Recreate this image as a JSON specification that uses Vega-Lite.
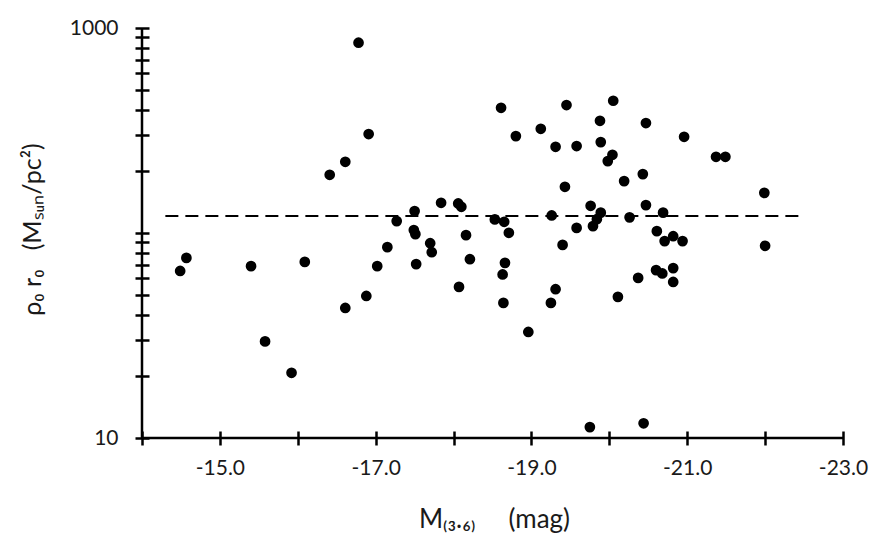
{
  "$schema": "https://vega.github.io/schema/vega-lite/v6.json",
  "width": 701,
  "height": 410,
  "autosize": "none",
  "padding": {"left": 142, "top": 28, "right": 40, "bottom": 101},
  "background": "white",
  "config": {"view": {"stroke": null}, "font": "Lato"},
  "datasets": {
    "points": [
      {"mag": -14.49, "rho": 65.3}, {"mag": -14.57, "rho": 75.6}, {"mag": -15.40, "rho": 68.9},
      {"mag": -15.58, "rho": 29.6}, {"mag": -15.92, "rho": 20.8}, {"mag": -16.09, "rho": 72.3},
      {"mag": -16.41, "rho": 192.3}, {"mag": -16.61, "rho": 222.5}, {"mag": -16.61, "rho": 43.1},
      {"mag": -16.78, "rho": 847.8}, {"mag": -16.88, "rho": 49.3}, {"mag": -16.91, "rho": 303.8},
      {"mag": -17.02, "rho": 68.9}, {"mag": -17.15, "rho": 85.3}, {"mag": -17.27, "rho": 114.3},
      {"mag": -17.50, "rho": 127.9}, {"mag": -17.49, "rho": 103.3}, {"mag": -17.51, "rho": 98.7},
      {"mag": -17.52, "rho": 70.5}, {"mag": -17.70, "rho": 89.2}, {"mag": -17.72, "rho": 80.6},
      {"mag": -17.84, "rho": 140.4}, {"mag": -18.06, "rho": 139.4}, {"mag": -18.10, "rho": 134.2},
      {"mag": -18.07, "rho": 54.6}, {"mag": -18.16, "rho": 97.6}, {"mag": -18.21, "rho": 74.5},
      {"mag": -18.53, "rho": 116.5}, {"mag": -18.61, "rho": 408.2}, {"mag": -18.65, "rho": 113.4},
      {"mag": -18.63, "rho": 62.8}, {"mag": -18.66, "rho": 71.5}, {"mag": -18.64, "rho": 45.6},
      {"mag": -18.71, "rho": 100.2}, {"mag": -18.80, "rho": 297.0}, {"mag": -18.96, "rho": 32.9},
      {"mag": -19.12, "rho": 322.4}, {"mag": -19.25, "rho": 45.6}, {"mag": -19.26, "rho": 121.8},
      {"mag": -19.31, "rho": 263.4}, {"mag": -19.31, "rho": 53.2}, {"mag": -19.40, "rho": 87.5},
      {"mag": -19.45, "rho": 420.9}, {"mag": -19.43, "rho": 168.0}, {"mag": -19.58, "rho": 265.5},
      {"mag": -19.58, "rho": 105.9}, {"mag": -19.76, "rho": 135.7}, {"mag": -19.75, "rho": 11.3},
      {"mag": -19.79, "rho": 108.0}, {"mag": -19.84, "rho": 116.8}, {"mag": -19.89, "rho": 125.7},
      {"mag": -19.88, "rho": 352.7}, {"mag": -19.89, "rho": 277.6}, {"mag": -19.98, "rho": 224.2},
      {"mag": -20.04, "rho": 240.7}, {"mag": -20.05, "rho": 441.7}, {"mag": -20.11, "rho": 48.8},
      {"mag": -20.19, "rho": 179.1}, {"mag": -20.26, "rho": 119.2}, {"mag": -20.37, "rho": 60.4},
      {"mag": -20.43, "rho": 193.8}, {"mag": -20.44, "rho": 11.8}, {"mag": -20.47, "rho": 343.8},
      {"mag": -20.47, "rho": 136.8}, {"mag": -20.60, "rho": 65.9}, {"mag": -20.61, "rho": 102.1},
      {"mag": -20.68, "rho": 63.5}, {"mag": -20.71, "rho": 91.3}, {"mag": -20.69, "rho": 125.7},
      {"mag": -20.82, "rho": 67.4}, {"mag": -20.82, "rho": 57.7}, {"mag": -20.82, "rho": 96.5},
      {"mag": -20.96, "rho": 294.7}, {"mag": -20.94, "rho": 91.3}, {"mag": -21.37, "rho": 235.3},
      {"mag": -21.49, "rho": 235.3}, {"mag": -21.99, "rho": 157.0}, {"mag": -22.00, "rho": 86.6}
    ],
    "meanline": [{"mag": -14.3, "mag2": -22.5, "rho": 121.2}],
    "yline": [{"mag": -14, "rho": 10, "rho2": 1000}],
    "xline": [{"mag": -14, "mag2": -23, "rho": 10}]
  },
  "encoding": {
    "x": {
      "field": "mag",
      "type": "quantitative",
      "scale": {"domain": [-23, -14], "reverse": true, "nice": false, "zero": false},
      "axis": {
        "title": "M₍₃.₆₎\u00a0\u00a0\u00a0\u00a0\u00a0(mag)",
        "titleFont": "Lato",
        "titleFontSize": 26,
        "titleFontWeight": "normal",
        "titleColor": "#1a1a1a",
        "titleX": 352,
        "titleY": 96,
        "titleAlign": "center",
        "titleBaseline": "alphabetic",
        "values": [-14, -15, -16, -17, -18, -19, -20, -21, -22, -23],
        "labelExpr": "datum.value % 2 != 0 ? '-' + format(abs(datum.value), '.1f') : ''",
        "labelFont": "Lato",
        "labelFontSize": 21,
        "labelColor": "#1a1a1a",
        "labelFlush": false,
        "labelOverlap": false,
        "labelPadding": 12,
        "domain": false,
        "offset": -7,
        "tickSize": 14,
        "tickWidth": 2.5,
        "tickColor": "black",
        "grid": false
      }
    },
    "y": {
      "field": "rho",
      "type": "quantitative",
      "scale": {"type": "log", "domain": [10, 1000], "nice": false},
      "axis": {
        "title": "ρ₀ r₀\u00a0\u00a0\u00a0(Mₛᵤₙ/pc²)",
        "titleFont": "Lato",
        "titleFontSize": 25,
        "titleFontWeight": "normal",
        "titleColor": "#1a1a1a",
        "titleAngle": -90,
        "titleX": -109,
        "titleY": 201,
        "titleAlign": "center",
        "titleBaseline": "alphabetic",
        "values": [10, 20, 30, 40, 50, 60, 70, 80, 90, 100, 200, 300, 400, 500, 600, 700, 800, 900, 1000],
        "labelExpr": "datum.value == 10 || datum.value == 1000 ? format(datum.value, 'd') : ''",
        "labelFont": "Lato",
        "labelFontSize": 21,
        "labelColor": "#1a1a1a",
        "labelFlush": false,
        "labelOverlap": false,
        "labelPadding": 17,
        "domain": false,
        "offset": -7,
        "tickSize": 14,
        "tickWidth": 2.5,
        "tickColor": "black",
        "grid": false
      }
    }
  },
  "layer": [
    {
      "data": {"name": "points"},
      "mark": {"type": "circle", "size": 115, "color": "black", "opacity": 1}
    },
    {
      "data": {"name": "meanline"},
      "mark": {"type": "rule", "color": "black", "strokeWidth": 2, "strokeDash": [13, 7]},
      "encoding": {"x2": {"field": "mag2"}}
    },
    {
      "data": {"name": "yline"},
      "mark": {"type": "rule", "color": "black", "strokeWidth": 2.5},
      "encoding": {"y2": {"field": "rho2"}}
    },
    {
      "data": {"name": "xline"},
      "mark": {"type": "rule", "color": "black", "strokeWidth": 2.5},
      "encoding": {"x2": {"field": "mag2"}}
    }
  ]
}
